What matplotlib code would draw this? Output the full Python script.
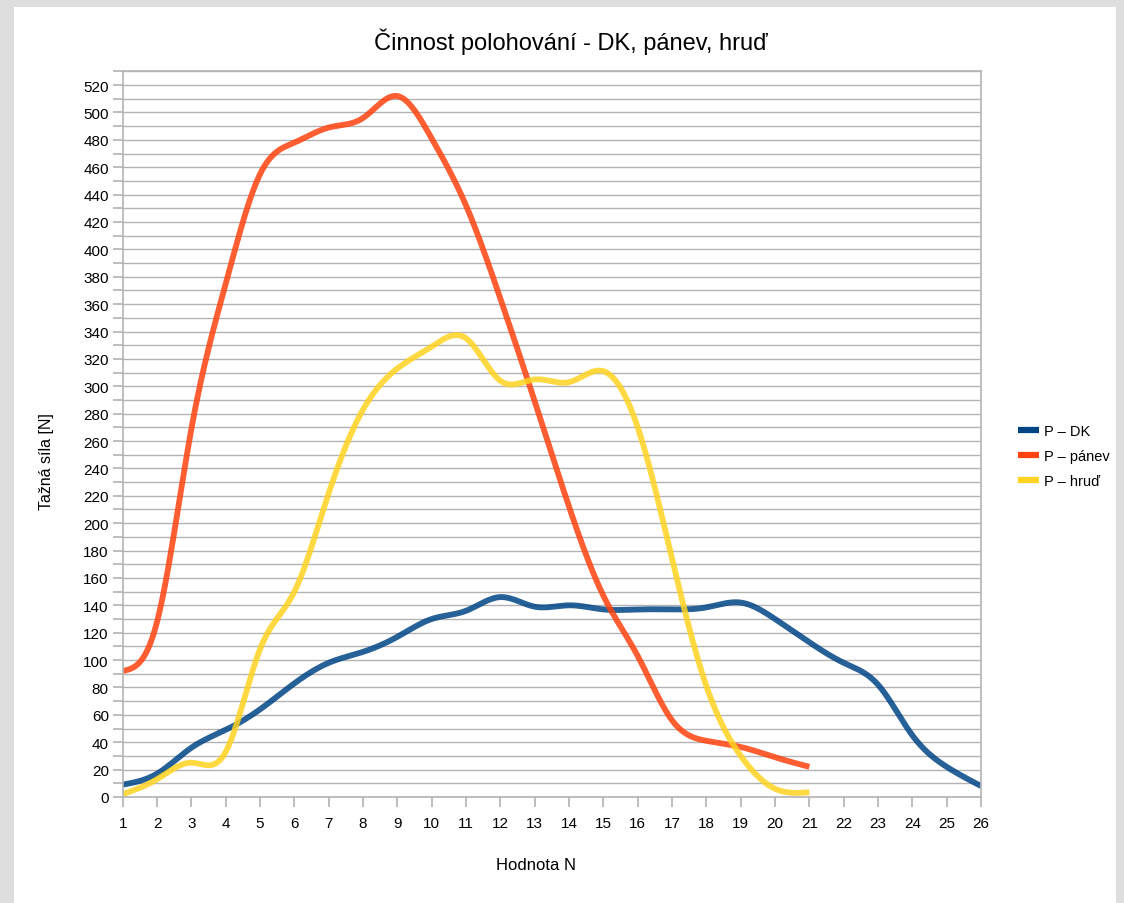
import numpy as np
import matplotlib
matplotlib.use("Agg")
import matplotlib.pyplot as plt
from matplotlib.patches import Rectangle
from matplotlib.ticker import MultipleLocator

plt.rcParams['font.family'] = ['Liberation Sans', 'DejaVu Sans']

x_dk = list(range(1, 27))
p_dk = [9, 17, 36, 49, 64, 83, 98, 106, 117, 130, 136, 146, 139, 140, 137,
        137, 137, 138.5, 142, 130, 113, 98, 82, 45, 22, 8]
x_pan = list(range(1, 22))
p_panev = [92, 128, 269, 375, 455, 478, 489, 496, 512, 481, 432, 364, 289,
           212, 147, 103, 56, 41, 36.5, 29, 22]
p_hrud = [2, 13, 25, 33, 108, 150, 222, 283, 313, 329, 335, 304, 305, 303,
          311, 270, 174, 81, 30, 6, 3.5]
series_names = ["P – DK", "P – pánev", "P – hruď"]
colors = ["#004586", "#ff420e", "#ffd320"]


def natural_spline(xs, ys, n=40):
    # plain natural cubic spline, like the office program draws it
    xs = np.asarray(xs, float)
    ys = np.asarray(ys, float)
    k = len(xs)
    h = np.diff(xs)
    A = np.zeros((k, k))
    b = np.zeros(k)
    A[0, 0] = A[-1, -1] = 1
    for i in range(1, k - 1):
        A[i, i - 1] = h[i - 1]
        A[i, i] = 2 * (h[i - 1] + h[i])
        A[i, i + 1] = h[i]
        b[i] = 6 * ((ys[i + 1] - ys[i]) / h[i] - (ys[i] - ys[i - 1]) / h[i - 1])
    m = np.linalg.solve(A, b)
    out_x, out_y = [], []
    for i in range(k - 1):
        t = np.linspace(xs[i], xs[i + 1], n, endpoint=(i == k - 2))
        a = xs[i + 1] - t
        c = t - xs[i]
        y = (m[i] * a ** 3 / (6 * h[i]) + m[i + 1] * c ** 3 / (6 * h[i])
             + (ys[i] / h[i] - m[i] * h[i] / 6) * a
             + (ys[i + 1] / h[i] - m[i + 1] * h[i] / 6) * c)
        out_x.append(t)
        out_y.append(y)
    return np.concatenate(out_x), np.concatenate(out_y)


fig = plt.figure(figsize=(11.24, 9.04), dpi=100, facecolor="#dedede")
fig.patches.append(Rectangle((14 / 1124, 0), (1116 - 14) / 1124, 1 - 8 / 904,
                             transform=fig.transFigure, facecolor="white",
                             edgecolor="none", zorder=-10))

ax = fig.add_axes([0.1092, 0.1173, 0.7636, 0.8026])
ax.set_facecolor("white")
ax.set_zorder(5)

for xs, ys, name, col in zip([x_dk, x_pan, x_pan], [p_dk, p_panev, p_hrud],
                             series_names, colors):
    sx, sy = natural_spline(xs, ys)
    ax.plot(sx, sy, color=col, lw=4.2, label=name, alpha=0.85,
            solid_capstyle="butt")

ax.set_xlim(1, 26)
ax.set_ylim(0, 530)
ax.xaxis.set_major_locator(MultipleLocator(1))
ax.yaxis.set_major_locator(MultipleLocator(20))
ax.yaxis.set_minor_locator(MultipleLocator(10))
ax.grid(True, which="both", axis="y", color="#b3b3b3", lw=1)
ax.set_axisbelow(True)
for s in ax.spines.values():
    s.set_color("#b3b3b3")
    s.set_linewidth(1.2)
ax.tick_params(axis="both", which="both", colors="#b3b3b3", length=7,
               width=1.2, labelcolor="black", labelsize=11)
ax.tick_params(axis="x", pad=7)
ax.tick_params(axis="y", pad=3)

ax.set_xlabel("Hodnota N", fontsize=12)
ax.xaxis.set_label_coords(0.482, -0.083)
ax.set_ylabel("Tažná síla [N]", fontsize=11.5)
ax.yaxis.set_label_coords(-0.08, 0.464)

fig.text(0.508, 0.9535, "Činnost polohování - DK, pánev, hruď",
         ha="center", va="center", fontsize=17)

leg = ax.legend(loc="center left", bbox_to_anchor=(0.894, 0.4945),
                bbox_transform=fig.transFigure, frameon=False, fontsize=10.5,
                handlelength=1.45, handletextpad=0.3, labelspacing=0.75)
for h in leg.legend_handles:
    h.set_linewidth(4.5)
    h.set_alpha(1)

fig.savefig("out.png", dpi=100, facecolor=fig.get_facecolor())
